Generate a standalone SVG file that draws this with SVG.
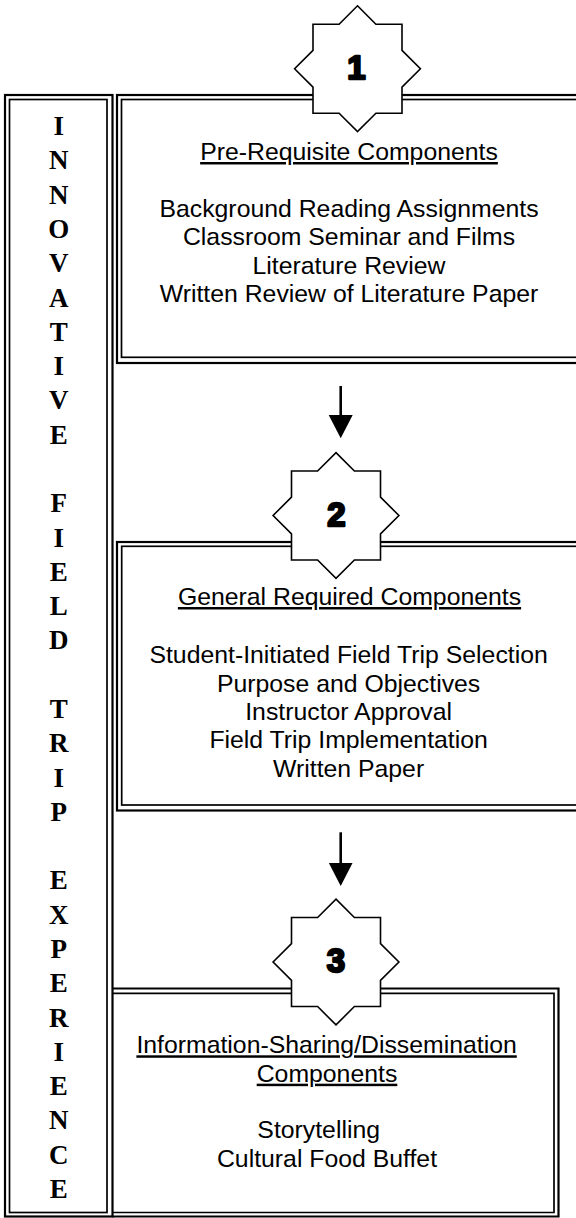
<svg xmlns="http://www.w3.org/2000/svg" xmlns:xlink="http://www.w3.org/1999/xlink" width="576" height="1218" viewBox="0 0 576 1218">
<style>
.outer{fill:none;stroke:#000;stroke-width:2.2}
.inner{fill:none;stroke:#000;stroke-width:1.7}
.vl{font-family:"Liberation Serif","Times New Roman",serif;font-weight:bold;font-size:27px;text-anchor:middle;fill:#000}
.t{font-family:"Liberation Sans",Arial,sans-serif;font-size:24.8px;text-anchor:middle;fill:#000}
.u{text-decoration:underline}
.star{fill:#fff;stroke:#000;stroke-width:1.6;stroke-linejoin:miter}
.num{font-family:"Liberation Sans",Arial,sans-serif;font-weight:bold;font-size:33px;text-anchor:middle;fill:#000;stroke:#000;stroke-width:2.4;stroke-linejoin:round}
.arrow{stroke:#000;stroke-width:2.6;fill:none}
</style>
<defs>
<polygon id="starShape" points="0,-62.9 18.4,-44.5 44.5,-44.5 44.5,-18.4 62.9,0 44.5,18.4 44.5,44.5 18.4,44.5 0,62.9 -18.4,44.5 -44.5,44.5 -44.5,18.4 -62.9,0 -44.5,-18.4 -44.5,-44.5 -18.4,-44.5"/>
<marker id="head" markerUnits="userSpaceOnUse" markerWidth="26" markerHeight="26" refX="10" refY="12" orient="auto" viewBox="0 0 26 26">
<path d="M0,0 L23.3,12 L0,24 Z" fill="#000"/>
</marker>
</defs>
<rect width="576" height="1218" fill="#fff"/>

<g id="sidebar">
<rect class="outer" x="5" y="95" width="107.5" height="1121.5" fill="#fff"/>
<rect class="inner" x="9.5" y="99.5" width="97.5" height="1113"/>
<text class="vl" x="58.8" y="135">I</text>
<text class="vl" x="58.8" y="169.3">N</text>
<text class="vl" x="58.8" y="203.6">N</text>
<text class="vl" x="58.8" y="237.9">O</text>
<text class="vl" x="58.8" y="272.2">V</text>
<text class="vl" x="58.8" y="306.5">A</text>
<text class="vl" x="58.8" y="340.7">T</text>
<text class="vl" x="58.8" y="375">I</text>
<text class="vl" x="58.8" y="409.3">V</text>
<text class="vl" x="58.8" y="443.6">E</text>
<text class="vl" x="58.8" y="512.2">F</text>
<text class="vl" x="58.8" y="546.5">I</text>
<text class="vl" x="58.8" y="580.8">E</text>
<text class="vl" x="58.8" y="615.1">L</text>
<text class="vl" x="58.8" y="649.4">D</text>
<text class="vl" x="58.8" y="717.9">T</text>
<text class="vl" x="58.8" y="752.2">R</text>
<text class="vl" x="58.8" y="786.5">I</text>
<text class="vl" x="58.8" y="820.8">P</text>
<text class="vl" x="58.8" y="889.4">E</text>
<text class="vl" x="58.8" y="923.7">X</text>
<text class="vl" x="58.8" y="958">P</text>
<text class="vl" x="58.8" y="992.3">E</text>
<text class="vl" x="58.8" y="1026.5">R</text>
<text class="vl" x="58.8" y="1060.8">I</text>
<text class="vl" x="58.8" y="1095.1">E</text>
<text class="vl" x="58.8" y="1129.4">N</text>
<text class="vl" x="58.8" y="1163.7">C</text>
<text class="vl" x="58.8" y="1198">E</text>
</g>

<g id="box1">
<rect class="outer" x="117" y="95" width="500" height="268" fill="#fff"/>
<rect class="inner" x="121.5" y="99.5" width="490" height="257.8"/>
<text class="t u" x="349" y="160">Pre-Requisite Components</text>
<text class="t" x="349" y="216.7">Background Reading Assignments</text>
<text class="t" x="349" y="245">Classroom Seminar and Films</text>
<text class="t" x="349" y="273.5">Literature Review</text>
<text class="t" x="349" y="301.7">Written Review of Literature Paper</text>
</g>

<g id="box2">
<rect class="outer" x="117" y="542" width="500" height="268.5" fill="#fff"/>
<rect class="inner" x="121.7" y="546.3" width="490" height="258.7"/>
<text class="t u" x="349.5" y="605">General Required Components</text>
<text class="t" x="348.6" y="663">Student-Initiated Field Trip Selection</text>
<text class="t" x="348.6" y="691.7">Purpose and Objectives</text>
<text class="t" x="348.6" y="720">Instructor Approval</text>
<text class="t" x="348.6" y="748.3">Field Trip Implementation</text>
<text class="t" x="348.6" y="776.7">Written Paper</text>
</g>

<g id="box3">
<path class="outer" d="M112.5,988.5 H558.5 V1216.5 H112.5"/>
<path class="inner" d="M112.5,993.3 H554 V1212.5 H112.5"/>
<text class="t u" x="326.6" y="1053.3">Information-Sharing/Dissemination</text>
<text class="t u" x="327" y="1081.7">Components</text>
<text class="t" x="318.7" y="1138.3">Storytelling</text>
<text class="t" x="327" y="1166.7">Cultural Food Buffet</text>
</g>

<g id="star1">
<use xlink:href="#starShape" href="#starShape" class="star" x="357.5" y="68.7"/>
<text class="num" x="356.5" y="79.3">1</text>
</g>
<g id="star2">
<use xlink:href="#starShape" href="#starShape" class="star" x="336" y="515.5"/>
<text class="num" x="336.5" y="526">2</text>
</g>
<g id="star3">
<use xlink:href="#starShape" href="#starShape" class="star" x="336" y="962"/>
<text class="num" x="336" y="972">3</text>
</g>

<g id="connectors">
<line class="arrow" x1="340.7" y1="386" x2="340.7" y2="425" marker-end="url(#head)"/>
<line class="arrow" x1="340.7" y1="832.3" x2="340.7" y2="872.7" marker-end="url(#head)"/>
</g>
</svg>
